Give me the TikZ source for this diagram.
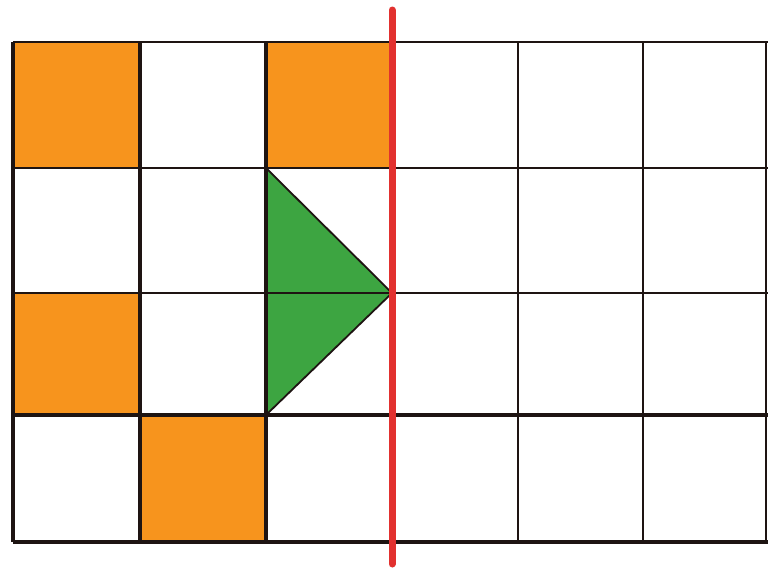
\documentclass[tikz,border=0pt]{standalone}
\definecolor{cellorange}{HTML}{F7941D}
\definecolor{trigreen}{HTML}{3DA541}
\definecolor{axisred}{HTML}{E2312F}
\definecolor{gridline}{HTML}{1E1412}
\tikzset{
  cell/.style={fill=cellorange, draw=none},
  gridthin/.style={draw=gridline, line width=2.4pt},
  gridthick/.style={draw=gridline, line width=3.4pt},
  tri/.style={fill=trigreen, draw=gridline, line width=1.8pt, line join=round},
  axis/.style={draw=axisred, line width=7pt, line cap=round}
}
\begin{document}
\begin{tikzpicture}[x=1pt,y=-1pt]
\useasboundingbox (0,0) rectangle (768,570);
\fill[white] (0,0) rectangle (768,570);
% orange cells
\fill[cell] (13,42) rectangle (140,168);
\fill[cell] (266,42) rectangle (392,168);
\fill[cell] (13,293) rectangle (140,415);
\fill[cell] (140,415) rectangle (266,542);
% green triangle
\filldraw[tri] (266,168) -- (392,293) -- (266,415) -- cycle;
% vertical grid lines
\draw[gridthick] (13,42) -- (13,542);
\draw[gridthick] (140,42) -- (140,542);
\draw[gridthick] (266,42) -- (266,542);
\draw[gridthin] (518,42) -- (518,542);
\draw[gridthin] (643,42) -- (643,542);
\draw[gridthin] (766,42) -- (766,542);
% horizontal grid lines
\draw[gridthin] (13,42) -- (768,42);
\draw[gridthin] (13,168) -- (768,168);
\draw[gridthin] (13,293) -- (768,293);
\draw[gridthick] (13,415) -- (768,415);
\draw[draw=gridline, line width=4.5pt] (13,542) -- (768,542);
% red axis
\draw[axis] (392,10) -- (392,564);
\end{tikzpicture}
\end{document}
